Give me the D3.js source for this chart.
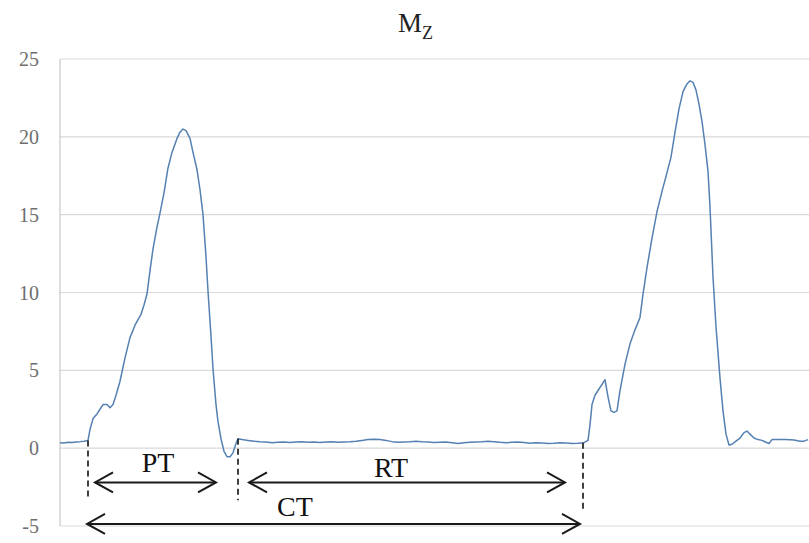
<!DOCTYPE html>
<html><head><meta charset="utf-8">
<script src="https://cdn.jsdelivr.net/npm/d3@7/dist/d3.min.js"></script>
<style>body{margin:0;background:#fff}svg{display:block}</style>
</head><body><svg id="c" width="809" height="543"></svg>
<script>
// sample index (arbitrary time units) and Mz values
const sampleIdx = [0,4,8,12,16,20,24,28,30,33,37,40,43,47,50,53,56,60,65,70,75,81,84,87,90,93,97,100,104,108,112,117,120,123,126,130,133,137,140,143,146,148,151,153,156,158,161,164,167,170,173,176,178,182,188,194,200,206,212,218,224,230,236,242,248,254,260,266,272,278,284,290,296,302,308,314,320,326,332,338,344,350,356,362,368,374,380,386,392,398,404,410,416,422,428,434,440,446,452,458,464,470,476,482,488,494,500,506,512,518,524,528,530,532,535,539,543,545,548,551,554,557,560,565,570,575,580,583,587,592,597,602,607,611,615,619,623,627,630,633,636,639,642,645,648,650,653,656,660,663,666,669,672,676,680,684,687,690,694,698,702,706,709,712,718,726,734,740,744,748];
const mzValues = [0.35,0.33,0.38,0.36,0.40,0.42,0.45,0.50,1.2,1.9,2.2,2.5,2.8,2.8,2.6,2.8,3.4,4.3,5.8,7.1,7.9,8.6,9.2,9.9,11.4,12.8,14.2,15.1,16.4,18.0,19.0,19.9,20.3,20.5,20.4,19.9,19.0,17.9,16.6,15.0,12.3,10.1,7.2,5.1,2.8,1.7,0.6,-0.2,-0.55,-0.55,-0.3,0.3,0.6,0.55,0.5,0.45,0.42,0.40,0.35,0.38,0.40,0.36,0.40,0.42,0.38,0.40,0.36,0.40,0.42,0.38,0.40,0.42,0.45,0.50,0.55,0.58,0.55,0.50,0.42,0.38,0.40,0.42,0.45,0.42,0.40,0.36,0.38,0.40,0.35,0.30,0.35,0.38,0.40,0.42,0.45,0.42,0.38,0.35,0.38,0.40,0.36,0.32,0.35,0.33,0.30,0.32,0.35,0.33,0.30,0.32,0.35,0.5,1.5,2.8,3.4,3.8,4.2,4.4,3.3,2.4,2.3,2.4,3.7,5.4,6.7,7.6,8.4,9.9,11.6,13.5,15.2,16.5,17.7,18.7,20.3,21.8,22.9,23.4,23.6,23.5,23.0,22.1,21.0,19.5,17.8,15.5,11.0,7.8,4.5,2.4,0.9,0.2,0.25,0.45,0.65,1.0,1.1,0.9,0.65,0.55,0.5,0.38,0.3,0.55,0.55,0.55,0.52,0.45,0.45,0.55];
const yTicks = [-5,0,5,10,15,20,25];
// phase markers (sample index) and their labels
const markerIdx = [28, 178, 523];
const markerBottom = [-3.35, -3.35, -4.0];
const spanLabels = ["PT","RT","CT"];
const spanStart = [35, 189, 27];
const spanEnd = [156, 505, 520];
const spanLevel = [-2.2, -2.2, -4.87];
const labelIdx = [98, 331, 235];
const labelLevel = [-1.55, -1.85, -4.35];

const svg = d3.select("#c");
const x = d3.scaleLinear().domain([0, 748]).range([60, 808]);
const y = d3.scaleLinear().domain([-5, 25]).range([526, 59]);
const serif = "'Liberation Serif','Times New Roman',serif";

// gridlines
svg.append("g").selectAll("line").data(yTicks).join("line")
  .attr("x1", 60).attr("x2", 809)
  .attr("y1", d => y(d)).attr("y2", d => y(d))
  .attr("stroke", "#d9d9d9").attr("stroke-width", 1.2);
// left axis
svg.append("line").attr("x1", 60).attr("x2", 60).attr("y1", y(25)).attr("y2", y(-5))
  .attr("stroke", "#c8c8c8").attr("stroke-width", 1.2);
// tick labels
svg.append("g").selectAll("text").data(yTicks).join("text")
  .attr("x", 39).attr("y", d => y(d) + 7)
  .attr("text-anchor", "end").attr("font-family", serif).attr("font-size", 20)
  .attr("fill", "#6e6e6e").text(d => d);

// title
const t = svg.append("text").attr("x", 398).attr("y", 32).attr("font-family", serif).attr("fill", "#222");
t.append("tspan").attr("font-size", 27).text("M");
t.append("tspan").attr("font-size", 18).attr("dy", 7).text("Z");

// data line
const pts = sampleIdx.map((s, i) => [s, mzValues[i]]);
svg.append("path").datum(pts)
  .attr("fill", "none").attr("stroke", "#5580b2").attr("stroke-width", 1.5)
  .attr("stroke-linejoin", "round")
  .attr("d", d3.line().x(d => x(d[0])).y(d => y(d[1])));

// dashed markers
const valAt = s => { let i = sampleIdx.indexOf(s); if (i < 0) { i = d3.bisectLeft(sampleIdx, s); } return mzValues[Math.min(i, mzValues.length-1)]; };
svg.append("g").selectAll("line").data(markerIdx).join("line")
  .attr("x1", d => x(d)).attr("x2", d => x(d))
  .attr("y1", d => y(valAt(d)))
  .attr("y2", (d, i) => y(markerBottom[i]))
  .attr("stroke", "#111").attr("stroke-width", 1.6).attr("stroke-dasharray", "6,4");

// span arrows
const g = svg.append("g").attr("stroke", "#1a1a1a").attr("stroke-width", 2).attr("fill", "none");
spanLabels.forEach((lab, i) => {
  const x1 = x(spanStart[i]), x2 = x(spanEnd[i]), yy = y(spanLevel[i]);
  g.append("line").attr("x1", x1).attr("x2", x2).attr("y1", yy).attr("y2", yy);
  g.append("path").attr("d", `M${x1+18},${yy-10}L${x1},${yy}L${x1+18},${yy+10}`);
  g.append("path").attr("d", `M${x2-18},${yy-10}L${x2},${yy}L${x2-18},${yy+10}`);
  svg.append("text").attr("x", x(labelIdx[i])).attr("y", y(labelLevel[i]))
    .attr("text-anchor", "middle").attr("font-family", serif).attr("font-size", 28)
    .attr("fill", "#111").text(lab);
});
</script></body></html>
